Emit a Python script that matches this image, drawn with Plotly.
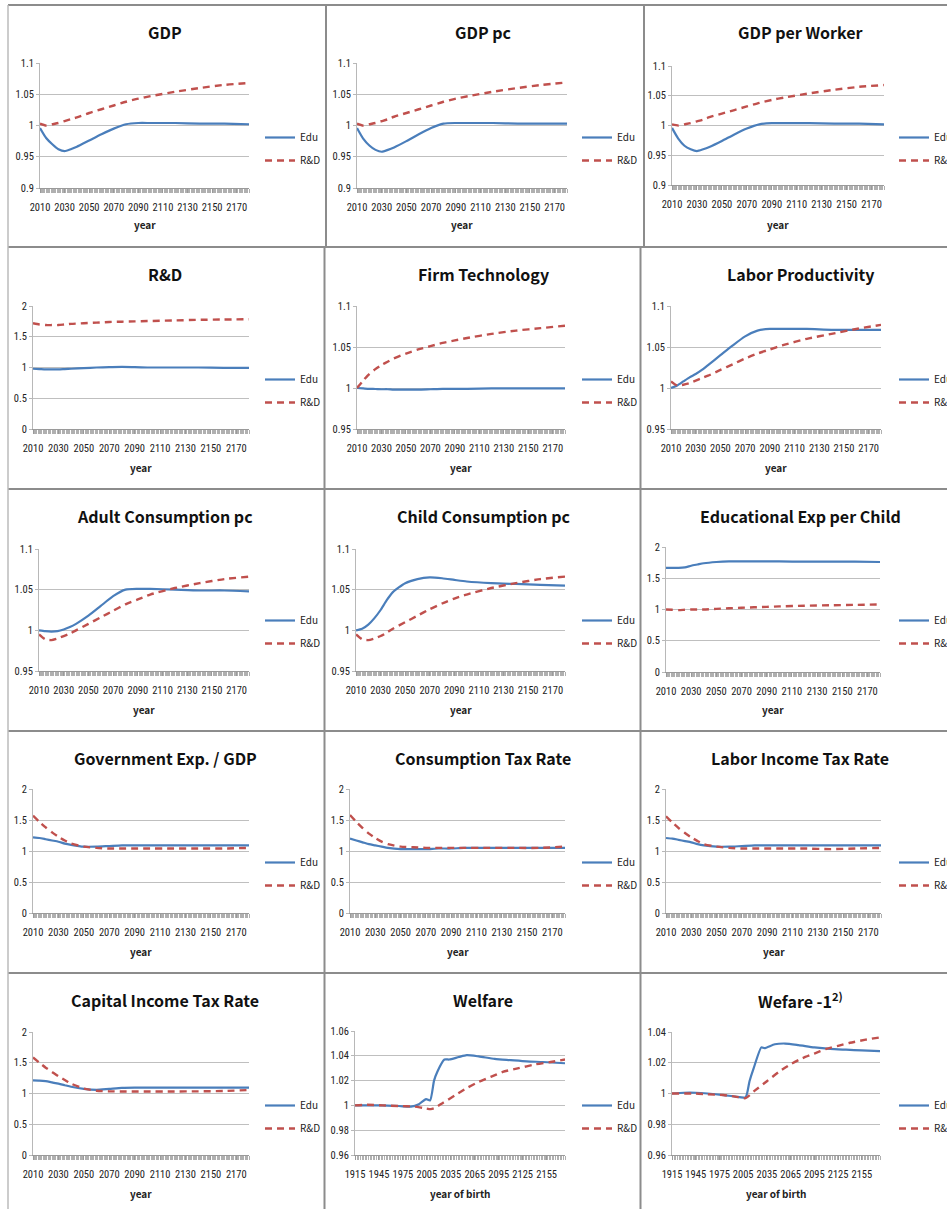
import plotly.graph_objects as go

W, H = 947, 1209

# ---------------- data ----------------
YEARS = [2010, 2015, 2020, 2025, 2030, 2035, 2040, 2050, 2060, 2070, 2080, 2090, 2100, 2120, 2140, 2160, 2180]

gdp_edu = [0.996, 0.980, 0.970, 0.962, 0.959, 0.962, 0.966, 0.976, 0.986, 0.995, 1.002, 1.004, 1.004, 1.004, 1.003, 1.003, 1.002]
gdp_rnd = [1.003, 1.000, 1.002, 1.004, 1.007, 1.010, 1.013, 1.020, 1.026, 1.032, 1.038, 1.043, 1.047, 1.054, 1.060, 1.065, 1.068]

gdppc_edu = [0.996, 0.979, 0.968, 0.961, 0.958, 0.961, 0.965, 0.975, 0.986, 0.996, 1.003, 1.004, 1.004, 1.004, 1.003, 1.003, 1.003]
gdppc_rnd = [1.003, 1.000, 1.002, 1.004, 1.007, 1.010, 1.014, 1.020, 1.026, 1.032, 1.038, 1.043, 1.047, 1.054, 1.060, 1.065, 1.069]

gdpw_edu = [0.996, 0.978, 0.966, 0.960, 0.957, 0.960, 0.964, 0.974, 0.985, 0.995, 1.002, 1.004, 1.004, 1.004, 1.003, 1.003, 1.002]
gdpw_rnd = [1.002, 1.000, 1.002, 1.004, 1.007, 1.010, 1.014, 1.020, 1.026, 1.032, 1.038, 1.043, 1.047, 1.054, 1.060, 1.065, 1.068]

rd_edu = [0.98, 0.975, 0.97, 0.97, 0.97, 0.975, 0.98, 0.99, 1.0, 1.005, 1.01, 1.005, 1.0, 1.0, 1.0, 0.995, 0.995]
rd_rnd = [1.72, 1.70, 1.69, 1.69, 1.69, 1.70, 1.71, 1.72, 1.73, 1.74, 1.745, 1.75, 1.755, 1.765, 1.775, 1.78, 1.785]

tech_edu = [1.0, 0.9995, 0.999, 0.9988, 0.9985, 0.9985, 0.998, 0.998, 0.998, 0.9985, 0.999, 0.999, 0.999, 0.9995, 0.9995, 0.9995, 0.9995]
tech_rnd = [1.0, 1.009, 1.017, 1.023, 1.028, 1.032, 1.036, 1.042, 1.047, 1.051, 1.055, 1.058, 1.061, 1.066, 1.070, 1.073, 1.076]

lp_edu = [1.0, 1.003, 1.008, 1.013, 1.017, 1.022, 1.028, 1.040, 1.052, 1.063, 1.070, 1.072, 1.072, 1.072, 1.071, 1.071, 1.071]
lp_rnd = [1.008, 1.003, 1.004, 1.006, 1.009, 1.012, 1.015, 1.022, 1.029, 1.036, 1.042, 1.047, 1.052, 1.060, 1.066, 1.072, 1.077]

adult_edu = [1.0, 0.999, 0.9985, 0.999, 1.001, 1.004, 1.008, 1.018, 1.030, 1.042, 1.050, 1.051, 1.051, 1.050, 1.049, 1.049, 1.048]
adult_rnd = [0.995, 0.989, 0.988, 0.990, 0.993, 0.996, 1.000, 1.008, 1.016, 1.024, 1.032, 1.038, 1.044, 1.052, 1.058, 1.063, 1.066]

child_edu = [1.0, 1.002, 1.007, 1.015, 1.025, 1.037, 1.047, 1.058, 1.063, 1.065, 1.064, 1.062, 1.060, 1.058, 1.057, 1.056, 1.055]
child_rnd = [0.995, 0.989, 0.988, 0.990, 0.993, 0.997, 1.002, 1.010, 1.018, 1.026, 1.033, 1.039, 1.044, 1.052, 1.058, 1.063, 1.066]

eduexp_edu = [1.666, 1.666, 1.666, 1.675, 1.70, 1.72, 1.74, 1.76, 1.77, 1.77, 1.77, 1.77, 1.77, 1.765, 1.765, 1.765, 1.76]
eduexp_rnd = [1.0, 0.995, 0.99, 0.995, 1.0, 1.0, 1.0, 1.01, 1.02, 1.028, 1.035, 1.042, 1.05, 1.06, 1.068, 1.074, 1.08]

gov_edu = [1.22, 1.21, 1.19, 1.17, 1.15, 1.12, 1.10, 1.07, 1.07, 1.08, 1.09, 1.09, 1.09, 1.09, 1.09, 1.09, 1.09]
gov_rnd = [1.57, 1.47, 1.38, 1.30, 1.23, 1.17, 1.12, 1.07, 1.05, 1.04, 1.04, 1.04, 1.04, 1.04, 1.04, 1.04, 1.05]

ctax_edu = [1.20, 1.17, 1.14, 1.11, 1.09, 1.07, 1.05, 1.03, 1.03, 1.03, 1.04, 1.04, 1.05, 1.05, 1.05, 1.05, 1.05]
ctax_rnd = [1.58, 1.47, 1.37, 1.28, 1.21, 1.15, 1.11, 1.07, 1.06, 1.05, 1.05, 1.05, 1.05, 1.05, 1.05, 1.05, 1.07]

ltax_edu = [1.21, 1.20, 1.18, 1.16, 1.14, 1.11, 1.09, 1.07, 1.07, 1.08, 1.09, 1.09, 1.09, 1.09, 1.09, 1.09, 1.09]
ltax_rnd = [1.56, 1.46, 1.37, 1.29, 1.22, 1.16, 1.11, 1.07, 1.05, 1.04, 1.04, 1.04, 1.04, 1.04, 1.03, 1.04, 1.05]

ktax_edu = [1.213, 1.21, 1.20, 1.18, 1.16, 1.135, 1.11, 1.075, 1.06, 1.075, 1.09, 1.094, 1.094, 1.094, 1.094, 1.094, 1.094]
ktax_rnd = [1.585, 1.50, 1.42, 1.35, 1.28, 1.22, 1.16, 1.08, 1.045, 1.035, 1.033, 1.033, 1.033, 1.033, 1.035, 1.04, 1.057]

welf_edu_x = [1915, 1945, 1970, 1985, 1995, 2004, 2009, 2014, 2018, 2027, 2033, 2045, 2055, 2070, 2090, 2110, 2130, 2150, 2178]
welf_edu = [1.0, 1.0, 0.9995, 0.999, 1.001, 1.005, 1.004, 1.020, 1.027, 1.037, 1.037, 1.039, 1.0405, 1.0395, 1.0375, 1.0365, 1.0355, 1.035, 1.034]
welf_rnd_x = [1915, 1930, 1950, 1970, 1990, 2000, 2010, 2015, 2025, 2040, 2055, 2070, 2085, 2100, 2120, 2140, 2160, 2178]
welf_rnd = [1.0, 1.0005, 1.0, 0.9995, 0.999, 0.998, 0.997, 0.998, 1.002, 1.008, 1.014, 1.019, 1.023, 1.027, 1.030, 1.033, 1.035, 1.037]

welf1_edu_x = [1915, 1930, 1945, 1960, 1980, 1995, 2008, 2013, 2018, 2028, 2032, 2045, 2058, 2075, 2095, 2115, 2135, 2155, 2178]
welf1_edu = [1.0, 1.0005, 1.0005, 1.0, 0.999, 0.998, 0.9975, 1.008, 1.016, 1.030, 1.0295, 1.032, 1.0325, 1.0315, 1.030, 1.029, 1.0285, 1.028, 1.0275]
welf1_rnd_x = [1915, 1945, 1960, 1980, 1995, 2008, 2020, 2035, 2050, 2065, 2080, 2095, 2110, 2125, 2140, 2160, 2178]
welf1_rnd = [1.0, 1.0, 0.9995, 0.999, 0.998, 0.997, 1.002, 1.008, 1.014, 1.019, 1.023, 1.026, 1.029, 1.031, 1.033, 1.035, 1.0365]

# ---------------- panel layout ----------------
# (title, edu x, edu y, r&d x, r&d y, y range, y step, x kind, plot box in px: left, top, right, bottom)
panels = [
    ("GDP", YEARS, gdp_edu, YEARS, gdp_rnd, (0.9, 1.1), 0.05, "year", (40, 63, 249, 188)),
    ("GDP pc", YEARS, gdppc_edu, YEARS, gdppc_rnd, (0.9, 1.1), 0.05, "year", (357, 63, 567, 188)),
    ("GDP per Worker", YEARS, gdpw_edu, YEARS, gdpw_rnd, (0.9, 1.1), 0.05, "year", (672, 66, 884, 185)),
    ("R&D", YEARS, rd_edu, YEARS, rd_rnd, (0, 2), 0.5, "year", (33, 306, 249, 429)),
    ("Firm Technology", YEARS, tech_edu, YEARS, tech_rnd, (0.95, 1.1), 0.05, "year", (357, 306, 565, 429)),
    ("Labor Productivity", YEARS, lp_edu, YEARS, lp_rnd, (0.95, 1.1), 0.05, "year", (671, 306, 881, 429)),
    ("Adult Consumption pc", YEARS, adult_edu, YEARS, adult_rnd, (0.95, 1.1), 0.05, "year", (39, 549, 249, 671)),
    ("Child Consumption pc", YEARS, child_edu, YEARS, child_rnd, (0.95, 1.1), 0.05, "year", (356, 549, 565, 671)),
    ("Educational Exp per Child", YEARS, eduexp_edu, YEARS, eduexp_rnd, (0, 2), 0.5, "year", (666, 547, 880, 672)),
    ("Government Exp. / GDP", YEARS, gov_edu, YEARS, gov_rnd, (0, 2), 0.5, "year", (33, 789, 249, 913)),
    ("Consumption Tax Rate", YEARS, ctax_edu, YEARS, ctax_rnd, (0, 2), 0.5, "year", (350, 789, 565, 913)),
    ("Labor Income Tax Rate", YEARS, ltax_edu, YEARS, ltax_rnd, (0, 2), 0.5, "year", (666, 789, 881, 913)),
    ("Capital Income Tax Rate", YEARS, ktax_edu, YEARS, ktax_rnd, (0, 2), 0.5, "year", (33, 1032, 249, 1155)),
    ("Welfare", welf_edu_x, welf_edu, welf_rnd_x, welf_rnd, (0.96, 1.06), 0.02, "birth", (355, 1031, 565, 1155)),
    ("Wefare -1<sup>2)</sup>", welf1_edu_x, welf1_edu, welf1_rnd_x, welf1_rnd, (0.96, 1.04), 0.02, "birth", (672, 1032, 880, 1155)),
]

ROW_TOPS = [5, 247, 489, 731, 973]
LEGEND_MID = [149, 391, 632, 874, 1117]
TITLE_CX = [165, 483, 800]
LEGEND_X = [260, 577, 894]

EDU_COLOR = "#4A7EBB"
RND_COLOR = "#C0504D"
GRID = "#BFBFBF"
TEXT = "#222222"
FONT = "Noto Sans CJK KR, Noto Sans, sans-serif"
TICK_FONT = dict(family="Liberation Sans Narrow, Roboto Condensed, Noto Sans, sans-serif", size=10.5, color=TEXT)


def px_x(v):
    return v / W


def px_y(v):
    return 1 - v / H


fig = go.Figure()
annotations = []
shapes = []
layout_axes = {}

for i, (title, ex, ey, rx, ry, yr, dy, kind, box) in enumerate(panels):
    n = i + 1
    row, col = divmod(i, 3)
    left, top, right, bottom = box
    xa = "x" if n == 1 else f"x{n}"
    ya = "y" if n == 1 else f"y{n}"
    leg = "legend" if n == 1 else f"legend{n}"

    fig.add_trace(go.Scatter(
        x=ex, y=ey, name="Edu", mode="lines", xaxis=xa, yaxis=ya, legend=leg,
        legendgroup=f"e{n}",
        line=dict(color=EDU_COLOR, width=2.2, shape="spline", smoothing=0.6),
    ))
    fig.add_trace(go.Scatter(
        x=rx, y=ry, name="R&D", mode="lines", xaxis=xa, yaxis=ya, legend=leg,
        legendgroup=f"r{n}",
        line=dict(color=RND_COLOR, width=2.4, dash="7px,5px", shape="spline", smoothing=0.6),
    ))

    if kind == "year":
        xrange = [2010, 2180]
        tick0, dtick = 2010, 20
        xlabel = "year"
    else:
        xrange = [1915, 2178]
        tick0, dtick = 1915, 30
        xlabel = "year of birth"

    layout_axes["xaxis" if n == 1 else f"xaxis{n}"] = dict(
        domain=[px_x(left), px_x(right)], anchor=ya, range=xrange,
        tick0=tick0, dtick=dtick, tickangle=0, ticks="outside", ticklen=4, tickcolor="#9A9A9A",
        ticklabelstandoff=5,
        showgrid=False, zeroline=False, showline=True, linecolor="#9A9A9A", linewidth=1,
        tickfont=TICK_FONT,
        minor=dict(dtick=1 if kind == "year" else 2, ticks="outside", ticklen=4,
                   tickcolor="#B0B0B0", tickwidth=1, showgrid=False),
    )
    layout_axes["yaxis" if n == 1 else f"yaxis{n}"] = dict(
        domain=[px_y(bottom), px_y(top)], anchor=xa, range=[yr[0], yr[1]],
        dtick=dy, tick0=yr[0], showgrid=True, gridcolor=GRID, gridwidth=1,
        zeroline=False, showline=True, linecolor="#B8B8B8", linewidth=1,
        ticks="outside", ticklen=3, tickcolor="#B8B8B8", tickfont=TICK_FONT,
    )

    # per-panel legend to the right of the plot area
    layout_axes[leg] = dict(
        x=px_x(LEGEND_X[col]), y=px_y(LEGEND_MID[row]), xanchor="left", yanchor="middle",
        bgcolor="rgba(0,0,0,0)", borderwidth=0, tracegroupgap=4,
        font=dict(family=FONT, size=10, color=TEXT),
        itemwidth=30,
    )

    # chart title
    annotations.append(dict(
        text=f"<b>{title}</b>", x=px_x(TITLE_CX[col]), y=px_y(ROW_TOPS[row] + 27),
        xref="paper", yref="paper", xanchor="center", yanchor="middle", showarrow=False,
        font=dict(family=FONT, size=16, color="#111111"),
    ))
    # axis caption
    annotations.append(dict(
        text=f"<b>{xlabel}</b>", x=px_x((left + right) / 2), y=px_y(ROW_TOPS[row] + 220),
        xref="paper", yref="paper", xanchor="center", yanchor="middle", showarrow=False,
        font=dict(family=FONT, size=10, color=TEXT),
    ))

# table borders around the chart cells
BORDER = "#8C8C8C"
row_lines = [5, 247, 489, 731, 973]
for yv in row_lines:
    shapes.append(dict(type="line", xref="paper", yref="paper",
                       x0=px_x(8), x1=1, y0=px_y(yv), y1=px_y(yv),
                       line=dict(color=BORDER, width=2)))
shapes.append(dict(type="line", xref="paper", yref="paper",
                   x0=px_x(8), x1=px_x(8), y0=0, y1=px_y(5),
                   line=dict(color="#BBBBBB", width=1.5)))
vert = [(326, 5, 247), (644, 5, 247), (324.5, 247, 1209), (640.5, 247, 1209)]
for xv, y0, y1 in vert:
    shapes.append(dict(type="line", xref="paper", yref="paper",
                       x0=px_x(xv), x1=px_x(xv), y0=px_y(y0), y1=px_y(y1),
                       line=dict(color=BORDER, width=2)))

fig.update_layout(
    width=W, height=H,
    # fixed margins: legends of the right column run past the page edge
    margin=dict(l=0, r=0, t=0, b=0, autoexpand=False),
    paper_bgcolor="white", plot_bgcolor="white",
    showlegend=True, annotations=annotations, shapes=shapes,
    **layout_axes,
)

fig.write_html("out.html")
